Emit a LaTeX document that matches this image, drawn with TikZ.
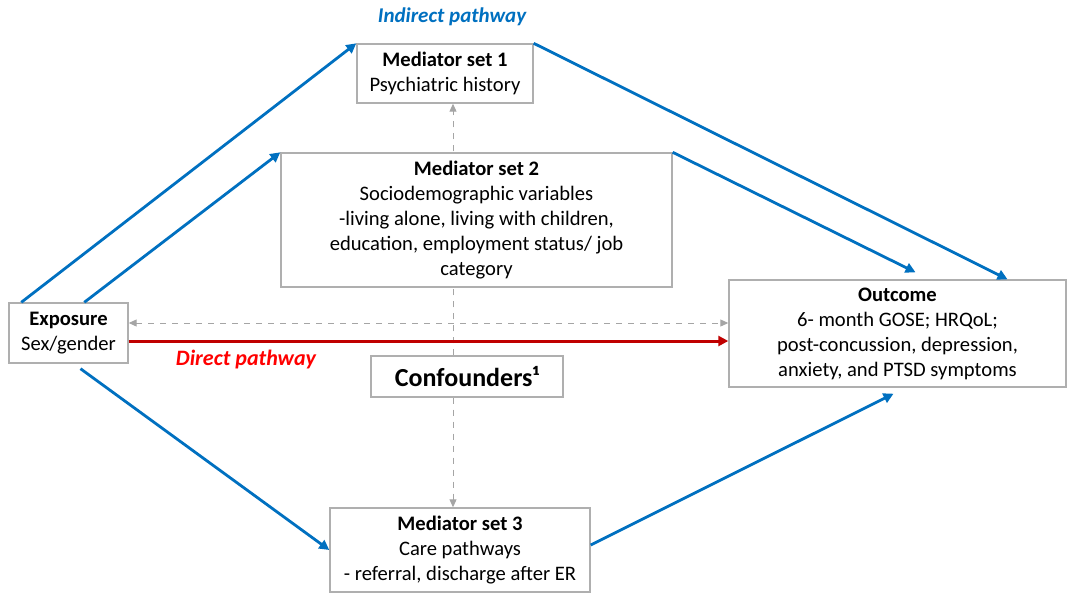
\documentclass[tikz,border=0pt]{standalone}
\usepackage{fontspec}
\setmainfont{Carlito}
\usetikzlibrary{arrows.meta}
\usetikzlibrary{backgrounds}

\definecolor{pathblue}{RGB}{0,112,192}
\definecolor{pathred}{RGB}{192,0,0}
\definecolor{boxgray}{RGB}{175,175,175}
\definecolor{dashgray}{RGB}{165,165,165}

\tikzset{
  varbox/.style={draw=boxgray, line width=0.7pt, fill=white, align=center,
    inner sep=0pt, font=\fontsize{10.3}{12.5}\selectfont},
  bluearrow/.style={draw=pathblue, line width=1.4pt,
    -{Triangle[length=5pt, width=5pt]}},
  redarrow/.style={draw=pathred, line width=1.5pt,
    -{Triangle[length=5pt, width=5pt]}},
  dasharrow/.style={draw=dashgray, line width=0.5pt, dashed,
    -{Triangle[length=4pt, width=3.5pt]}},
}

\begin{document}
\begin{tikzpicture}[x=0.5pt, y=-0.5pt]
% frame
\useasboundingbox (0,0) rectangle (1074,594);

% boxes
\node[varbox, minimum width=88pt, minimum height=29.5pt] (med1) at (445,73.5)
  {\textbf{Mediator set 1}\\Psychiatric history};
\node[varbox, minimum width=195.5pt, minimum height=67pt] (med2) at (476.5,220)
  {\textbf{Mediator set 2}\\Sociodemographic variables\\-living alone, living with children,\\education, employment status/ job\\category};
\node[varbox, minimum width=59.5pt, minimum height=30pt] (expo) at (68.5,333)
  {\textbf{Exposure}\\Sex/gender};
\node[varbox, minimum width=168.5pt, minimum height=53.5pt] (outc) at (897.5,333.5)
  {\textbf{Outcome}\\6- month GOSE; HRQoL;\\post-concussion, depression,\\anxiety, and PTSD symptoms};
\node[varbox, minimum width=96pt, minimum height=20.5pt,
  font=\fontsize{13}{15}\selectfont\bfseries] (conf) at (467,376.5)
  {Confounders¹};
\node[varbox, minimum width=130pt, minimum height=42pt] (med3) at (460,550)
  {\textbf{Mediator set 3}\\Care pathways\\- referral, discharge after ER};

% labels
\node[text=pathblue, font=\fontsize{10.5}{12}\selectfont\bfseries\itshape] (indlab) at (452,17) {Indirect pathway};
\node[text=red, font=\fontsize{11}{13}\selectfont\bfseries\itshape] (dirlab) at (246,360) {Direct pathway};

% confounder line
\coordinate (cx) at (453,0);

% dashed links
\begin{scope}[on background layer]
\draw[dasharrow, {Triangle[length=4pt, width=3.5pt]}-{Triangle[length=4pt, width=3.5pt]}]
  ([yshift=5pt]expo.east) -- ([yshift=5pt]expo.east -| outc.west);
\draw[dasharrow] (cx |- conf.north) -- (cx |- med1.south);
\draw[dasharrow] (cx |- conf.south) -- (cx |- med3.north);
\end{scope}

% indirect pathway
\draw[bluearrow] ([xshift=6.5pt]expo.north west) -- (med1.north west);
\draw[bluearrow] ([xshift=38pt]expo.north west) -- (med2.north west);
\draw[bluearrow] ([xshift=6pt, yshift=-2.5pt]expo.south) -- (med3.west);
\draw[bluearrow] (med1.north east) -- ([xshift=55pt]outc.north);
\draw[bluearrow] (med2.north east) -- ([xshift=9pt, yshift=3.5pt]outc.north);
\draw[bluearrow] ([yshift=2.5pt]med3.east) -- ([xshift=-2pt, yshift=-3pt]outc.south);

% direct pathway
\draw[redarrow] ([yshift=-4pt]expo.east) -- ([yshift=-4pt]expo.east -| outc.west);

\end{tikzpicture}
\end{document}
